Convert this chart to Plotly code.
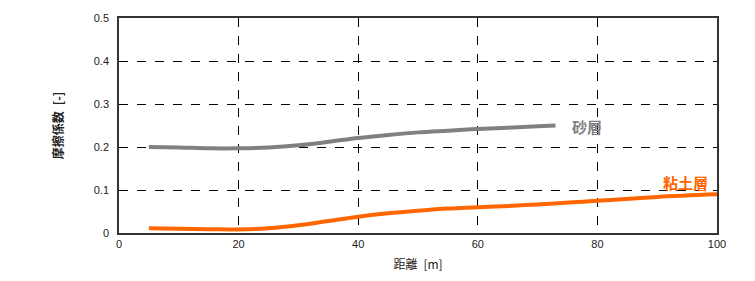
import plotly.graph_objects as go

sand_x = [5, 10, 15, 20, 25, 30, 35, 40, 45, 50, 55, 60, 65, 70, 73]
sand_y = [0.200, 0.199, 0.197, 0.197, 0.199, 0.204, 0.212, 0.221, 0.228, 0.234, 0.238, 0.242, 0.245, 0.248, 0.250]
clay_x = [5, 10, 15, 20, 25, 30, 35, 40, 45, 50, 55, 60, 70, 80, 90, 100]
clay_y = [0.011, 0.010, 0.009, 0.008, 0.011, 0.018, 0.028, 0.038, 0.046, 0.052, 0.057, 0.060, 0.066, 0.075, 0.084, 0.090]

x_ticks = [0, 20, 40, 60, 80, 100]
y_ticks = [0, 0.1, 0.2, 0.3, 0.4, 0.5]
y_tick_text = ["0", "0.1", "0.2", "0.3", "0.4", "0.5"]

font = "Liberation Sans, Arial, sans-serif"
cjk = "Noto Sans CJK JP, sans-serif"

fig = go.Figure()
fig.add_trace(go.Scatter(x=sand_x, y=sand_y, mode="lines",
                         line=dict(color="#808080", width=4, shape="spline"),
                         showlegend=False, hoverinfo="skip"))
fig.add_trace(go.Scatter(x=clay_x, y=clay_y, mode="lines",
                         line=dict(color="#FF6600", width=4, shape="spline"),
                         showlegend=False, hoverinfo="skip", cliponaxis=False))

fig.add_annotation(x=78.3, y=0.248, text="<b>砂層</b>", showarrow=False,
                   font=dict(family=cjk, size=15, color="#808080"))
fig.add_annotation(x=94.7, y=0.118, text="<b>粘土層</b>", showarrow=False,
                   font=dict(family=cjk, size=15, color="#FF6600"))

fig.update_layout(
    width=755, height=281,
    margin=dict(l=119, r=38, t=18, b=48),
    paper_bgcolor="white", plot_bgcolor="white",
    font=dict(family=font, size=11, color="#222"),
)
fig.update_xaxes(range=[0, 100], tickvals=x_ticks, showline=True, linecolor="#333",
                 linewidth=1.5, mirror=True, showgrid=True, gridcolor="black",
                 griddash="dash", gridwidth=1, zeroline=False, ticks="",
                 title=dict(text="距離\u2002[m]", font=dict(family=cjk, size=12), standoff=12))
fig.update_yaxes(range=[0, 0.5], tickvals=y_ticks, ticktext=y_tick_text, showline=True,
                 linecolor="#333", linewidth=1.5, mirror=True, showgrid=True,
                 gridcolor="black", griddash="dash", gridwidth=1, zeroline=False,
                 ticks="", ticklabelstandoff=6,
                 title=dict(text="<b>摩擦係数\u2002[-]</b>", font=dict(family=cjk, size=12), standoff=28))

fig.write_html("out.html")
